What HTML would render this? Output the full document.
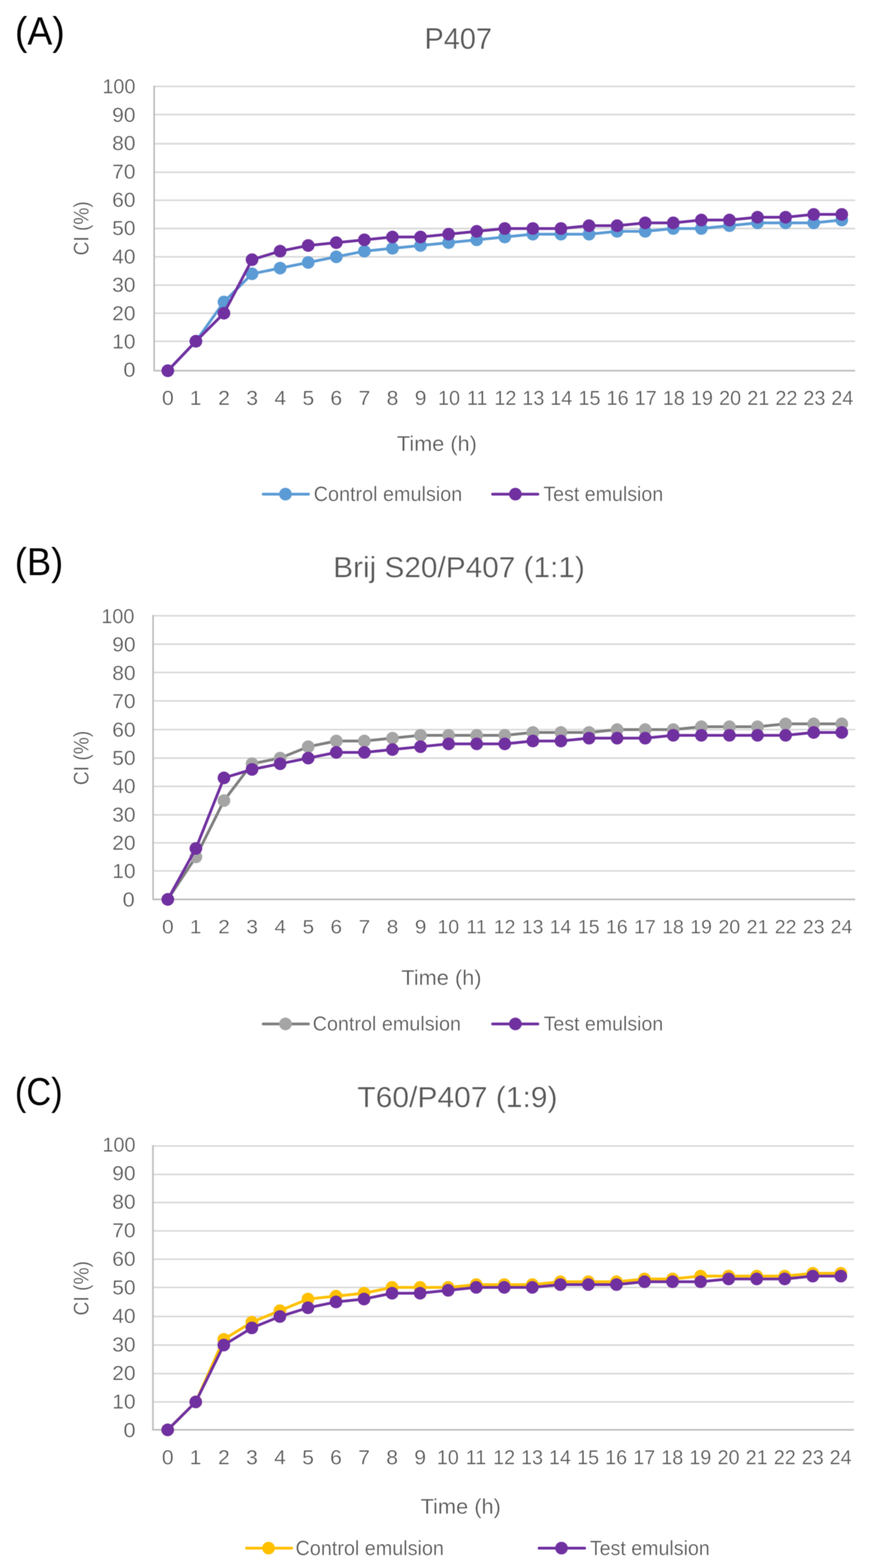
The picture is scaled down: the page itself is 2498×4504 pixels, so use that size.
<!DOCTYPE html>
<html lang="en">
<head>
<meta charset="utf-8">
<title>Creaming index over time</title>
<style>
html,body{margin:0;padding:0;background:#fff;}
body{width:2498px;height:4504px;overflow:hidden;}
svg{display:block;font-family:"Liberation Sans",sans-serif;}
svg{filter:blur(1px);}
text{stroke:#fff;stroke-width:.7px;}
text.pl{stroke:none;}
</style>
</head>
<body>
<svg width="2498" height="4504" viewBox="0 0 2498 4504">
<rect width="2498" height="4504" fill="#fff"/>
<g id="fig">
<g id="chart-A">
<g stroke="#D9D9D9" stroke-width="4.6" fill="none">
<line x1="442.6" y1="980.3" x2="2455.3" y2="980.3"/>
<line x1="442.6" y1="899.7" x2="2455.3" y2="899.7"/>
<line x1="442.6" y1="819" x2="2455.3" y2="819"/>
<line x1="442.6" y1="737.7" x2="2455.3" y2="737.7"/>
<line x1="442.6" y1="656.4" x2="2455.3" y2="656.4"/>
<line x1="442.6" y1="575.3" x2="2455.3" y2="575.3"/>
<line x1="442.6" y1="494.7" x2="2455.3" y2="494.7"/>
<line x1="442.6" y1="412.9" x2="2455.3" y2="412.9"/>
<line x1="442.6" y1="329" x2="2455.3" y2="329"/>
<line x1="442.6" y1="248.2" x2="2455.3" y2="248.2"/>
</g>
<path d="M442.6 245.9 V1064.9 H2455.3" stroke="#BFBFBF" stroke-width="4.8" fill="none" stroke-linejoin="round"/>
<g font-size="57.92" fill="#595959">
<text transform="translate(354.23 1082.4) scale(1.08 1)">0</text>
<text transform="translate(321.99 1001) scale(1.04 1)">10</text>
<text transform="translate(321.99 919.6) scale(1.04 1)">20</text>
<text transform="translate(321.99 838.2) scale(1.04 1)">30</text>
<text transform="translate(321.99 756.8) scale(1.04 1)">40</text>
<text transform="translate(321.99 675.4) scale(1.04 1)">50</text>
<text transform="translate(321.99 594) scale(1.04 1)">60</text>
<text transform="translate(321.99 512.6) scale(1.04 1)">70</text>
<text transform="translate(321.99 431.2) scale(1.04 1)">80</text>
<text transform="translate(321.99 349.8) scale(1.04 1)">90</text>
<text transform="translate(293.89 268.4) scale(0.982 1)">100</text>
</g>
<g font-size="57.06" fill="#595959">
<text transform="translate(464.98 1163) scale(1.07 1)">0</text>
<text transform="translate(544.85 1163) scale(1.07 1)">1</text>
<text transform="translate(626.32 1163) scale(1.07 1)">2</text>
<text transform="translate(707.1 1163) scale(1.07 1)">3</text>
<text transform="translate(787.73 1163) scale(1.07 1)">4</text>
<text transform="translate(868.21 1163) scale(1.07 1)">5</text>
<text transform="translate(948.61 1163) scale(1.07 1)">6</text>
<text transform="translate(1029.39 1163) scale(1.07 1)">7</text>
<text transform="translate(1110.1 1163) scale(1.07 1)">8</text>
<text transform="translate(1190.65 1163) scale(1.07 1)">9</text>
<text transform="translate(1257.56 1163) scale(1.0 1)">10</text>
<text transform="translate(1340.55 1163) scale(1.0 1)">11</text>
<text transform="translate(1419.18 1163) scale(1.0 1)">12</text>
<text transform="translate(1499.59 1163) scale(1.0 1)">13</text>
<text transform="translate(1579.8 1163) scale(1.0 1)">14</text>
<text transform="translate(1660.78 1163) scale(1.0 1)">15</text>
<text transform="translate(1741.48 1163) scale(1.0 1)">16</text>
<text transform="translate(1822.33 1163) scale(1.0 1)">17</text>
<text transform="translate(1902.74 1163) scale(1.0 1)">18</text>
<text transform="translate(1983.45 1163) scale(1.0 1)">19</text>
<text transform="translate(2064.57 1163) scale(1.0 1)">20</text>
<text transform="translate(2145.49 1163) scale(1.0 1)">21</text>
<text transform="translate(2226.19 1163) scale(1.0 1)">22</text>
<text transform="translate(2306.61 1163) scale(1.0 1)">23</text>
<text transform="translate(2386.81 1163) scale(1.0 1)">24</text>
</g>
<text transform="translate(1139.6 1295.1) scale(1.006 1)" font-size="61.96" fill="#595959">Time (h)</text>
<text transform="translate(254.3 731) rotate(-90) translate(-2.75 0) scale(0.8948 1)" font-size="61.38" fill="#595959">CI (%)</text>
<text transform="translate(1218.75 140.2) scale(0.9832 1)" font-size="84.51" fill="#595959">P407</text>
<text class="pl" transform="translate(43.11 127.8) scale(0.9499 1)" font-size="112.73" fill="#000">(A)</text>
<polyline points="481.8,1064.9 562.43,980.3 643.06,867.42 723.69,786.48 804.32,770.22 884.95,753.96 965.58,737.7 1046.21,721.44 1126.84,713.31 1207.47,705.18 1288.1,697.05 1368.73,688.92 1449.36,680.79 1529.99,672.66 1610.62,672.66 1691.25,672.66 1771.88,664.53 1852.51,664.53 1933.14,656.4 2013.77,656.4 2094.4,648.29 2175.03,640.18 2255.66,640.18 2336.29,640.18 2416.92,632.07" fill="none" stroke="#5B9BD5" stroke-width="8.0" stroke-linejoin="round" stroke-linecap="round"/>
<g fill="#5B9BD5">
<circle cx="481.8" cy="1064.9" r="18.2"/>
<circle cx="562.43" cy="980.3" r="18.2"/>
<circle cx="643.06" cy="867.42" r="18.2"/>
<circle cx="723.69" cy="786.48" r="18.2"/>
<circle cx="804.32" cy="770.22" r="18.2"/>
<circle cx="884.95" cy="753.96" r="18.2"/>
<circle cx="965.58" cy="737.7" r="18.2"/>
<circle cx="1046.21" cy="721.44" r="18.2"/>
<circle cx="1126.84" cy="713.31" r="18.2"/>
<circle cx="1207.47" cy="705.18" r="18.2"/>
<circle cx="1288.1" cy="697.05" r="18.2"/>
<circle cx="1368.73" cy="688.92" r="18.2"/>
<circle cx="1449.36" cy="680.79" r="18.2"/>
<circle cx="1529.99" cy="672.66" r="18.2"/>
<circle cx="1610.62" cy="672.66" r="18.2"/>
<circle cx="1691.25" cy="672.66" r="18.2"/>
<circle cx="1771.88" cy="664.53" r="18.2"/>
<circle cx="1852.51" cy="664.53" r="18.2"/>
<circle cx="1933.14" cy="656.4" r="18.2"/>
<circle cx="2013.77" cy="656.4" r="18.2"/>
<circle cx="2094.4" cy="648.29" r="18.2"/>
<circle cx="2175.03" cy="640.18" r="18.2"/>
<circle cx="2255.66" cy="640.18" r="18.2"/>
<circle cx="2336.29" cy="640.18" r="18.2"/>
<circle cx="2416.92" cy="632.07" r="18.2"/>
</g>
<polyline points="481.8,1064.9 562.43,980.3 643.06,899.7 723.69,745.83 804.32,721.44 884.95,705.18 965.58,697.05 1046.21,688.92 1126.84,680.79 1207.47,680.79 1288.1,672.66 1368.73,664.53 1449.36,656.4 1529.99,656.4 1610.62,656.4 1691.25,648.29 1771.88,648.29 1852.51,640.18 1933.14,640.18 2013.77,632.07 2094.4,632.07 2175.03,623.96 2255.66,623.96 2336.29,615.85 2416.92,615.85" fill="none" stroke="#7030A0" stroke-width="8.0" stroke-linejoin="round" stroke-linecap="round"/>
<g fill="#7030A0">
<circle cx="481.8" cy="1064.9" r="18.2"/>
<circle cx="562.43" cy="980.3" r="18.2"/>
<circle cx="643.06" cy="899.7" r="18.2"/>
<circle cx="723.69" cy="745.83" r="18.2"/>
<circle cx="804.32" cy="721.44" r="18.2"/>
<circle cx="884.95" cy="705.18" r="18.2"/>
<circle cx="965.58" cy="697.05" r="18.2"/>
<circle cx="1046.21" cy="688.92" r="18.2"/>
<circle cx="1126.84" cy="680.79" r="18.2"/>
<circle cx="1207.47" cy="680.79" r="18.2"/>
<circle cx="1288.1" cy="672.66" r="18.2"/>
<circle cx="1368.73" cy="664.53" r="18.2"/>
<circle cx="1449.36" cy="656.4" r="18.2"/>
<circle cx="1529.99" cy="656.4" r="18.2"/>
<circle cx="1610.62" cy="656.4" r="18.2"/>
<circle cx="1691.25" cy="648.29" r="18.2"/>
<circle cx="1771.88" cy="648.29" r="18.2"/>
<circle cx="1852.51" cy="640.18" r="18.2"/>
<circle cx="1933.14" cy="640.18" r="18.2"/>
<circle cx="2013.77" cy="632.07" r="18.2"/>
<circle cx="2094.4" cy="632.07" r="18.2"/>
<circle cx="2175.03" cy="623.96" r="18.2"/>
<circle cx="2255.66" cy="623.96" r="18.2"/>
<circle cx="2336.29" cy="615.85" r="18.2"/>
<circle cx="2416.92" cy="615.85" r="18.2"/>
</g>
<line x1="755.7" y1="1419.4" x2="885.7" y2="1419.4" stroke="#5B9BD5" stroke-width="8.0" stroke-linecap="round"/>
<circle cx="819.6" cy="1419.4" r="18.2" fill="#5B9BD5"/>
<text transform="translate(900.76 1439) scale(0.9717 1)" font-size="58.49" fill="#595959">Control emulsion</text>
<line x1="1414.4" y1="1419.4" x2="1544.3" y2="1419.4" stroke="#7030A0" stroke-width="8.0" stroke-linecap="round"/>
<circle cx="1479.8" cy="1419.4" r="18.2" fill="#7030A0"/>
<text transform="translate(1560.13 1439) scale(0.9628 1)" font-size="58.47" fill="#595959">Test emulsion</text>
</g>
<g id="chart-B">
<g stroke="#D9D9D9" stroke-width="4.6" fill="none">
<line x1="439.5" y1="2501.8" x2="2455.4" y2="2501.8"/>
<line x1="439.5" y1="2421" x2="2455.4" y2="2421"/>
<line x1="439.5" y1="2340.6" x2="2455.4" y2="2340.6"/>
<line x1="439.5" y1="2258.8" x2="2455.4" y2="2258.8"/>
<line x1="439.5" y1="2177.6" x2="2455.4" y2="2177.6"/>
<line x1="439.5" y1="2095.8" x2="2455.4" y2="2095.8"/>
<line x1="439.5" y1="2013.2" x2="2455.4" y2="2013.2"/>
<line x1="439.5" y1="1931.5" x2="2455.4" y2="1931.5"/>
<line x1="439.5" y1="1850.4" x2="2455.4" y2="1850.4"/>
<line x1="439.5" y1="1768.7" x2="2455.4" y2="1768.7"/>
</g>
<path d="M439.5 1766.4 V2583.5 H2455.4" stroke="#BFBFBF" stroke-width="4.8" fill="none" stroke-linejoin="round"/>
<g font-size="57.92" fill="#595959">
<text transform="translate(351.93 2603.8) scale(1.08 1)">0</text>
<text transform="translate(322.29 2522.42) scale(1.04 1)">10</text>
<text transform="translate(322.29 2441.05) scale(1.04 1)">20</text>
<text transform="translate(322.29 2359.67) scale(1.04 1)">30</text>
<text transform="translate(322.29 2278.3) scale(1.04 1)">40</text>
<text transform="translate(322.29 2196.92) scale(1.04 1)">50</text>
<text transform="translate(322.29 2115.55) scale(1.04 1)">60</text>
<text transform="translate(322.29 2034.17) scale(1.04 1)">70</text>
<text transform="translate(322.29 1952.8) scale(1.04 1)">80</text>
<text transform="translate(322.29 1871.42) scale(1.04 1)">90</text>
<text transform="translate(290.99 1790.05) scale(0.982 1)">100</text>
</g>
<g font-size="56.2" fill="#595959">
<text transform="translate(465.24 2681.2) scale(1.07 1)">0</text>
<text transform="translate(545.12 2681.2) scale(1.07 1)">1</text>
<text transform="translate(626.57 2681.2) scale(1.07 1)">2</text>
<text transform="translate(707.35 2681.2) scale(1.07 1)">3</text>
<text transform="translate(787.98 2681.2) scale(1.07 1)">4</text>
<text transform="translate(868.46 2681.2) scale(1.07 1)">5</text>
<text transform="translate(948.87 2681.2) scale(1.07 1)">6</text>
<text transform="translate(1029.65 2681.2) scale(1.07 1)">7</text>
<text transform="translate(1110.35 2681.2) scale(1.07 1)">8</text>
<text transform="translate(1190.91 2681.2) scale(1.07 1)">9</text>
<text transform="translate(1255.85 2681.2) scale(1.0 1)">10</text>
<text transform="translate(1338.8 2681.2) scale(1.0 1)">11</text>
<text transform="translate(1417.47 2681.2) scale(1.0 1)">12</text>
<text transform="translate(1497.89 2681.2) scale(1.0 1)">13</text>
<text transform="translate(1578.09 2681.2) scale(1.0 1)">14</text>
<text transform="translate(1659.08 2681.2) scale(1.0 1)">15</text>
<text transform="translate(1739.78 2681.2) scale(1.0 1)">16</text>
<text transform="translate(1820.62 2681.2) scale(1.0 1)">17</text>
<text transform="translate(1901.04 2681.2) scale(1.0 1)">18</text>
<text transform="translate(1981.74 2681.2) scale(1.0 1)">19</text>
<text transform="translate(2062.86 2681.2) scale(1.0 1)">20</text>
<text transform="translate(2143.77 2681.2) scale(1.0 1)">21</text>
<text transform="translate(2224.47 2681.2) scale(1.0 1)">22</text>
<text transform="translate(2304.89 2681.2) scale(1.0 1)">23</text>
<text transform="translate(2385.1 2681.2) scale(1.0 1)">24</text>
</g>
<text transform="translate(1152.29 2829.4) scale(1.0115 1)" font-size="61.82" fill="#595959">Time (h)</text>
<text transform="translate(254.3 2252.5) rotate(-90) translate(-2.76 0) scale(0.8978 1)" font-size="61.38" fill="#595959">CI (%)</text>
<text transform="translate(956.75 1658.2) scale(1.0241 1)" font-size="83.49" fill="#595959">Brij S20/P407 (1:1)</text>
<text class="pl" transform="translate(42.48 1652.3) scale(0.939 1)" font-size="111.13" fill="#000">(B)</text>
<polyline points="481.8,2583.5 562.43,2461.4 643.06,2299.7 723.69,2193.84 804.32,2177.6 884.95,2144.88 965.58,2128.52 1046.21,2128.52 1126.84,2120.34 1207.47,2112.16 1288.1,2112.16 1368.73,2112.16 1449.36,2112.16 1529.99,2103.98 1610.62,2103.98 1691.25,2103.98 1771.88,2095.8 1852.51,2095.8 1933.14,2095.8 2013.77,2087.54 2094.4,2087.54 2175.03,2087.54 2255.66,2079.28 2336.29,2079.28 2416.92,2079.28" fill="none" stroke="#7F7F7F" stroke-width="8.0" stroke-linejoin="round" stroke-linecap="round"/>
<g fill="#A5A5A5">
<circle cx="481.8" cy="2583.5" r="18.2"/>
<circle cx="562.43" cy="2461.4" r="18.2"/>
<circle cx="643.06" cy="2299.7" r="18.2"/>
<circle cx="723.69" cy="2193.84" r="18.2"/>
<circle cx="804.32" cy="2177.6" r="18.2"/>
<circle cx="884.95" cy="2144.88" r="18.2"/>
<circle cx="965.58" cy="2128.52" r="18.2"/>
<circle cx="1046.21" cy="2128.52" r="18.2"/>
<circle cx="1126.84" cy="2120.34" r="18.2"/>
<circle cx="1207.47" cy="2112.16" r="18.2"/>
<circle cx="1288.1" cy="2112.16" r="18.2"/>
<circle cx="1368.73" cy="2112.16" r="18.2"/>
<circle cx="1449.36" cy="2112.16" r="18.2"/>
<circle cx="1529.99" cy="2103.98" r="18.2"/>
<circle cx="1610.62" cy="2103.98" r="18.2"/>
<circle cx="1691.25" cy="2103.98" r="18.2"/>
<circle cx="1771.88" cy="2095.8" r="18.2"/>
<circle cx="1852.51" cy="2095.8" r="18.2"/>
<circle cx="1933.14" cy="2095.8" r="18.2"/>
<circle cx="2013.77" cy="2087.54" r="18.2"/>
<circle cx="2094.4" cy="2087.54" r="18.2"/>
<circle cx="2175.03" cy="2087.54" r="18.2"/>
<circle cx="2255.66" cy="2079.28" r="18.2"/>
<circle cx="2336.29" cy="2079.28" r="18.2"/>
<circle cx="2416.92" cy="2079.28" r="18.2"/>
</g>
<polyline points="481.8,2583.5 562.43,2437.16 643.06,2234.44 723.69,2210.08 804.32,2193.84 884.95,2177.6 965.58,2161.24 1046.21,2161.24 1126.84,2153.06 1207.47,2144.88 1288.1,2136.7 1368.73,2136.7 1449.36,2136.7 1529.99,2128.52 1610.62,2128.52 1691.25,2120.34 1771.88,2120.34 1852.51,2120.34 1933.14,2112.16 2013.77,2112.16 2094.4,2112.16 2175.03,2112.16 2255.66,2112.16 2336.29,2103.98 2416.92,2103.98" fill="none" stroke="#7030A0" stroke-width="8.0" stroke-linejoin="round" stroke-linecap="round"/>
<g fill="#7030A0">
<circle cx="481.8" cy="2583.5" r="18.2"/>
<circle cx="562.43" cy="2437.16" r="18.2"/>
<circle cx="643.06" cy="2234.44" r="18.2"/>
<circle cx="723.69" cy="2210.08" r="18.2"/>
<circle cx="804.32" cy="2193.84" r="18.2"/>
<circle cx="884.95" cy="2177.6" r="18.2"/>
<circle cx="965.58" cy="2161.24" r="18.2"/>
<circle cx="1046.21" cy="2161.24" r="18.2"/>
<circle cx="1126.84" cy="2153.06" r="18.2"/>
<circle cx="1207.47" cy="2144.88" r="18.2"/>
<circle cx="1288.1" cy="2136.7" r="18.2"/>
<circle cx="1368.73" cy="2136.7" r="18.2"/>
<circle cx="1449.36" cy="2136.7" r="18.2"/>
<circle cx="1529.99" cy="2128.52" r="18.2"/>
<circle cx="1610.62" cy="2128.52" r="18.2"/>
<circle cx="1691.25" cy="2120.34" r="18.2"/>
<circle cx="1771.88" cy="2120.34" r="18.2"/>
<circle cx="1852.51" cy="2120.34" r="18.2"/>
<circle cx="1933.14" cy="2112.16" r="18.2"/>
<circle cx="2013.77" cy="2112.16" r="18.2"/>
<circle cx="2094.4" cy="2112.16" r="18.2"/>
<circle cx="2175.03" cy="2112.16" r="18.2"/>
<circle cx="2255.66" cy="2112.16" r="18.2"/>
<circle cx="2336.29" cy="2103.98" r="18.2"/>
<circle cx="2416.92" cy="2103.98" r="18.2"/>
</g>
<line x1="755.7" y1="2941.2" x2="885.7" y2="2941.2" stroke="#7F7F7F" stroke-width="8.0" stroke-linecap="round"/>
<circle cx="819.6" cy="2941.2" r="18.2" fill="#A5A5A5"/>
<text transform="translate(897.66 2959.6) scale(0.9877 1)" font-size="57.49" fill="#595959">Control emulsion</text>
<line x1="1414.4" y1="2941.2" x2="1544.3" y2="2941.2" stroke="#7030A0" stroke-width="8.0" stroke-linecap="round"/>
<circle cx="1479.8" cy="2941.2" r="18.2" fill="#7030A0"/>
<text transform="translate(1560.94 2959.6) scale(0.9751 1)" font-size="57.6" fill="#595959">Test emulsion</text>
</g>
<g id="chart-C">
<g stroke="#D9D9D9" stroke-width="4.6" fill="none">
<line x1="439.1" y1="4027" x2="2452" y2="4027"/>
<line x1="439.1" y1="3945.7" x2="2452" y2="3945.7"/>
<line x1="439.1" y1="3863.6" x2="2452" y2="3863.6"/>
<line x1="439.1" y1="3781.6" x2="2452" y2="3781.6"/>
<line x1="439.1" y1="3698" x2="2452" y2="3698"/>
<line x1="439.1" y1="3617" x2="2452" y2="3617"/>
<line x1="439.1" y1="3535.7" x2="2452" y2="3535.7"/>
<line x1="439.1" y1="3454.1" x2="2452" y2="3454.1"/>
<line x1="439.1" y1="3373.5" x2="2452" y2="3373.5"/>
<line x1="439.1" y1="3291.7" x2="2452" y2="3291.7"/>
</g>
<path d="M439.1 3289.4 V4107.2 H2452" stroke="#BFBFBF" stroke-width="4.8" fill="none" stroke-linejoin="round"/>
<g font-size="57.92" fill="#595959">
<text transform="translate(354.53 4128) scale(1.08 1)">0</text>
<text transform="translate(322.29 4046.03) scale(1.04 1)">10</text>
<text transform="translate(322.29 3964.06) scale(1.04 1)">20</text>
<text transform="translate(322.29 3882.09) scale(1.04 1)">30</text>
<text transform="translate(322.29 3800.12) scale(1.04 1)">40</text>
<text transform="translate(322.29 3718.15) scale(1.04 1)">50</text>
<text transform="translate(322.29 3636.18) scale(1.04 1)">60</text>
<text transform="translate(322.29 3554.21) scale(1.04 1)">70</text>
<text transform="translate(322.29 3472.24) scale(1.04 1)">80</text>
<text transform="translate(322.29 3390.27) scale(1.04 1)">90</text>
<text transform="translate(294.19 3308.3) scale(0.982 1)">100</text>
</g>
<g font-size="56.77" fill="#595959">
<text transform="translate(464.77 4205.6) scale(1.07 1)">0</text>
<text transform="translate(544.54 4205.6) scale(1.07 1)">1</text>
<text transform="translate(625.9 4205.6) scale(1.07 1)">2</text>
<text transform="translate(706.58 4205.6) scale(1.07 1)">3</text>
<text transform="translate(787.11 4205.6) scale(1.07 1)">4</text>
<text transform="translate(867.49 4205.6) scale(1.07 1)">5</text>
<text transform="translate(947.79 4205.6) scale(1.07 1)">6</text>
<text transform="translate(1028.48 4205.6) scale(1.07 1)">7</text>
<text transform="translate(1109.08 4205.6) scale(1.07 1)">8</text>
<text transform="translate(1189.54 4205.6) scale(1.07 1)">9</text>
<text transform="translate(1254.23 4205.6) scale(1.0 1)">10</text>
<text transform="translate(1337.1 4205.6) scale(1.0 1)">11</text>
<text transform="translate(1415.64 4205.6) scale(1.0 1)">12</text>
<text transform="translate(1495.96 4205.6) scale(1.0 1)">13</text>
<text transform="translate(1576.06 4205.6) scale(1.0 1)">14</text>
<text transform="translate(1656.95 4205.6) scale(1.0 1)">15</text>
<text transform="translate(1737.55 4205.6) scale(1.0 1)">16</text>
<text transform="translate(1818.29 4205.6) scale(1.0 1)">17</text>
<text transform="translate(1898.61 4205.6) scale(1.0 1)">18</text>
<text transform="translate(1979.21 4205.6) scale(1.0 1)">19</text>
<text transform="translate(2060.24 4205.6) scale(1.0 1)">20</text>
<text transform="translate(2141.05 4205.6) scale(1.0 1)">21</text>
<text transform="translate(2221.65 4205.6) scale(1.0 1)">22</text>
<text transform="translate(2301.97 4205.6) scale(1.0 1)">23</text>
<text transform="translate(2382.07 4205.6) scale(1.0 1)">24</text>
</g>
<text transform="translate(1207.39 4347.9) scale(1.0229 1)" font-size="61.24" fill="#595959">Time (h)</text>
<text transform="translate(254.3 3775.9) rotate(-90) translate(-2.76 0) scale(0.8984 1)" font-size="61.38" fill="#595959">CI (%)</text>
<text transform="translate(1026.06 3179.6) scale(1.0319 1)" font-size="83.49" fill="#595959">T60/P407 (1:9)</text>
<text class="pl" transform="translate(42.84 3173.8) scale(0.8851 1)" font-size="111.42" fill="#000">(C)</text>
<polyline points="481.5,4107.2 562.03,4027 642.56,3847.2 723.09,3798 803.62,3764.88 884.15,3731.44 964.68,3723.08 1045.21,3714.72 1125.74,3698 1206.27,3698 1286.8,3698 1367.33,3689.9 1447.86,3689.9 1528.39,3689.9 1608.92,3681.8 1689.45,3681.8 1769.98,3681.8 1850.51,3673.7 1931.04,3673.7 2011.57,3665.6 2092.1,3665.6 2172.63,3665.6 2253.16,3665.6 2333.69,3657.5 2414.22,3657.5" fill="none" stroke="#FFC000" stroke-width="8.0" stroke-linejoin="round" stroke-linecap="round"/>
<g fill="#FFC000">
<circle cx="481.5" cy="4107.2" r="18.2"/>
<circle cx="562.03" cy="4027" r="18.2"/>
<circle cx="642.56" cy="3847.2" r="18.2"/>
<circle cx="723.09" cy="3798" r="18.2"/>
<circle cx="803.62" cy="3764.88" r="18.2"/>
<circle cx="884.15" cy="3731.44" r="18.2"/>
<circle cx="964.68" cy="3723.08" r="18.2"/>
<circle cx="1045.21" cy="3714.72" r="18.2"/>
<circle cx="1125.74" cy="3698" r="18.2"/>
<circle cx="1206.27" cy="3698" r="18.2"/>
<circle cx="1286.8" cy="3698" r="18.2"/>
<circle cx="1367.33" cy="3689.9" r="18.2"/>
<circle cx="1447.86" cy="3689.9" r="18.2"/>
<circle cx="1528.39" cy="3689.9" r="18.2"/>
<circle cx="1608.92" cy="3681.8" r="18.2"/>
<circle cx="1689.45" cy="3681.8" r="18.2"/>
<circle cx="1769.98" cy="3681.8" r="18.2"/>
<circle cx="1850.51" cy="3673.7" r="18.2"/>
<circle cx="1931.04" cy="3673.7" r="18.2"/>
<circle cx="2011.57" cy="3665.6" r="18.2"/>
<circle cx="2092.1" cy="3665.6" r="18.2"/>
<circle cx="2172.63" cy="3665.6" r="18.2"/>
<circle cx="2253.16" cy="3665.6" r="18.2"/>
<circle cx="2333.69" cy="3657.5" r="18.2"/>
<circle cx="2414.22" cy="3657.5" r="18.2"/>
</g>
<polyline points="481.5,4107.2 562.03,4027 642.56,3863.6 723.09,3814.4 803.62,3781.6 884.15,3756.52 964.68,3739.8 1045.21,3731.44 1125.74,3714.72 1206.27,3714.72 1286.8,3706.36 1367.33,3698 1447.86,3698 1528.39,3698 1608.92,3689.9 1689.45,3689.9 1769.98,3689.9 1850.51,3681.8 1931.04,3681.8 2011.57,3681.8 2092.1,3673.7 2172.63,3673.7 2253.16,3673.7 2333.69,3665.6 2414.22,3665.6" fill="none" stroke="#7030A0" stroke-width="8.0" stroke-linejoin="round" stroke-linecap="round"/>
<g fill="#7030A0">
<circle cx="481.5" cy="4107.2" r="18.2"/>
<circle cx="562.03" cy="4027" r="18.2"/>
<circle cx="642.56" cy="3863.6" r="18.2"/>
<circle cx="723.09" cy="3814.4" r="18.2"/>
<circle cx="803.62" cy="3781.6" r="18.2"/>
<circle cx="884.15" cy="3756.52" r="18.2"/>
<circle cx="964.68" cy="3739.8" r="18.2"/>
<circle cx="1045.21" cy="3731.44" r="18.2"/>
<circle cx="1125.74" cy="3714.72" r="18.2"/>
<circle cx="1206.27" cy="3714.72" r="18.2"/>
<circle cx="1286.8" cy="3706.36" r="18.2"/>
<circle cx="1367.33" cy="3698" r="18.2"/>
<circle cx="1447.86" cy="3698" r="18.2"/>
<circle cx="1528.39" cy="3698" r="18.2"/>
<circle cx="1608.92" cy="3689.9" r="18.2"/>
<circle cx="1689.45" cy="3689.9" r="18.2"/>
<circle cx="1769.98" cy="3689.9" r="18.2"/>
<circle cx="1850.51" cy="3681.8" r="18.2"/>
<circle cx="1931.04" cy="3681.8" r="18.2"/>
<circle cx="2011.57" cy="3681.8" r="18.2"/>
<circle cx="2092.1" cy="3673.7" r="18.2"/>
<circle cx="2172.63" cy="3673.7" r="18.2"/>
<circle cx="2253.16" cy="3673.7" r="18.2"/>
<circle cx="2333.69" cy="3665.6" r="18.2"/>
<circle cx="2414.22" cy="3665.6" r="18.2"/>
</g>
<line x1="707.9" y1="4446.9" x2="837.4" y2="4446.9" stroke="#FFC000" stroke-width="8.0" stroke-linecap="round"/>
<circle cx="771.1" cy="4446.9" r="18.2" fill="#FFC000"/>
<text transform="translate(848.56 4467.3) scale(0.971 1)" font-size="58.49" fill="#595959">Control emulsion</text>
<line x1="1547.9" y1="4446.9" x2="1678.7" y2="4446.9" stroke="#7030A0" stroke-width="8.0" stroke-linecap="round"/>
<circle cx="1612.2" cy="4446.9" r="18.2" fill="#7030A0"/>
<text transform="translate(1693.63 4467.3) scale(0.9604 1)" font-size="58.62" fill="#595959">Test emulsion</text>
</g>
</g>
</svg>
</body>
</html>
